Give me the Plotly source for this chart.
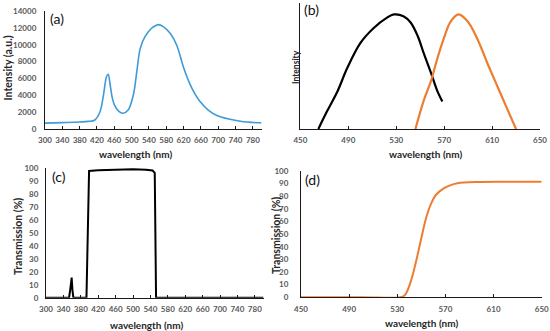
import plotly.graph_objects as go

# ---------------- data ----------------
# (a) emission spectrum of the white LED
wl_a = [300, 340, 380, 400, 415, 427, 435, 442, 446, 450, 455, 460, 470, 480, 492,
        504, 512, 520, 531, 546, 555, 562, 573, 589, 604, 620, 635, 647, 658, 677,
        697, 727, 758, 780, 800]
int_a = [700, 760, 830, 900, 1070, 2050, 4030, 6200, 6500, 5400, 3800, 2900, 2130, 1860, 2250,
         4030, 6800, 9570, 10950, 11950, 12250, 12380, 12150, 11350, 9970, 7300, 5300, 4100, 3250, 2250,
         1600, 1150, 870, 780, 740]

# (b) normalised spectra
wl_b_black = [465, 472, 481, 489, 500, 511, 522, 528, 536, 542, 548, 553, 559, 564, 568.5]
int_b_black = [0, 0.15, 0.33, 0.53, 0.75, 0.88, 0.97, 1.0, 0.985, 0.93, 0.81, 0.66, 0.49, 0.34, 0.24]
wl_b_orange = [546, 553, 559, 564, 570, 575.5, 582, 589.5, 598, 606, 614.5, 623, 630]
int_b_orange = [0, 0.25, 0.42, 0.605, 0.80, 0.94, 1.0, 0.94, 0.78, 0.576, 0.371, 0.167, 0]

# (c) band-pass filter transmission
wl_c = [300, 353, 356, 359, 361, 363, 393, 399, 420, 460, 500, 530, 545, 550, 553, 800]
tr_c = [0, 0, 7, 15.5, 5, 0, 0, 97.5, 98, 98.5, 98.8, 98.5, 97.8, 96, 0, 0]

# (d) long-pass filter transmission
wl_d = [450, 500, 532.5, 536, 538, 542, 546, 550, 554, 558, 562, 568.6, 575, 580, 596, 620, 650]
tr_d = [0, 0, 0, 1.5, 4.4, 15, 30, 47, 63, 74, 81, 86.3, 89, 90.3, 91.3, 91.5, 91.5]

panel_labels = ["(a)", "(b)", "(c)", "(d)"]
x_title = "wavelength (nm)"
y_titles = ["Intensity (a.u.)", "Intensity", "Transmission (%)", "Transmission (%)"]

W, H = 550, 331
BLUE = "#3d9bd8"
ORANGE = "#ed7d31"
TICKC = "#595959"
TITLEC = "#262626"
FONT = "Lato"

fig = go.Figure()
fig.add_trace(go.Scatter(x=wl_a, y=int_a, mode="lines", line=dict(color=BLUE, width=1.6, shape="spline"),
                         xaxis="x", yaxis="y", showlegend=False))
fig.add_trace(go.Scatter(x=wl_b_black, y=int_b_black, mode="lines", line=dict(color="black", width=2.2, shape="spline"),
                         xaxis="x2", yaxis="y2", showlegend=False))
fig.add_trace(go.Scatter(x=wl_b_orange, y=int_b_orange, mode="lines", line=dict(color=ORANGE, width=2.2, shape="spline"),
                         xaxis="x2", yaxis="y2", showlegend=False))
fig.add_trace(go.Scatter(x=wl_c, y=tr_c, mode="lines", line=dict(color="black", width=2),
                         xaxis="x3", yaxis="y3", showlegend=False))
fig.add_trace(go.Scatter(x=wl_d, y=tr_d, mode="lines", line=dict(color=ORANGE, width=2, shape="spline"),
                         xaxis="x4", yaxis="y4", showlegend=False))


def px_x(p):
    return p / W


def px_y(p):
    return 1 - p / H


tickfont = dict(family=FONT, size=8, color=TICKC, weight="bold")
xtitlefont = dict(family=FONT, size=10, color=TITLEC, weight="bold")
ytitle_sizes = [10.5, 8.5, 10.5, 10.5]


def xaxis(domain, anchor, rng, tick0, lstand):
    return dict(domain=domain, anchor=anchor, range=rng, tick0=tick0, dtick=40, showgrid=False,
                zeroline=False, showline=True, linecolor="#1a1a1a", linewidth=1.2,
                ticks="inside", ticklen=3, tickcolor="#1a1a1a", tickfont=tickfont,
                ticklabelstandoff=lstand, ticklabeloverflow="allow", automargin=False)


def yaxis(domain, anchor, rng, dtick, lstand=0, showlabels=True):
    return dict(domain=domain, anchor=anchor, range=rng, dtick=dtick, showgrid=False,
                zeroline=False, showline=True, linecolor="#1a1a1a", linewidth=1.2,
                ticks="", showticklabels=showlabels, tickfont=tickfont, tickformat="d",
                ticklabelstandoff=lstand, ticklabeloverflow="allow", automargin=False)


fig.update_layout(
    width=W, height=H, margin=dict(l=0, r=0, t=0, b=0),
    paper_bgcolor="white", plot_bgcolor="white",
    xaxis=xaxis([px_x(45), px_x(261.5)], "y", [300, 800], 300, 3),
    yaxis=yaxis([px_y(129), px_y(11)], "x", [0, 14000], 2000, 6),
    xaxis2=xaxis([px_x(300.4), px_x(540)], "y2", [450, 650], 450, 3),
    yaxis2=yaxis([px_y(129), px_y(3)], "x2", [0, 1.1], 0.2, 0, showlabels=False),
    xaxis3=xaxis([px_x(46), px_x(263.5)], "y3", [300, 800], 300, 4),
    yaxis3=yaxis([px_y(297.7), px_y(167.7)], "x3", [0, 100], 10, 5),
    xaxis4=xaxis([px_x(301), px_x(541.7)], "y4", [450, 650], 450, 4),
    yaxis4=yaxis([px_y(297.3), px_y(171)], "x4", [0, 100], 10, 10),
)

# panel letters
label_pos = [(48, 18.5), (302, 10), (50, 176.5), (303, 179)]
for txt, (lx, ly) in zip(panel_labels, label_pos):
    fig.add_annotation(text=txt, x=px_x(lx), y=px_y(ly), xref="paper", yref="paper",
                       xanchor="left", yanchor="middle", showarrow=False,
                       font=dict(family=FONT, size=14, color="#111111"))

# axis titles
xt_pos = [(135, 154), (425, 154), (146, 325), (421, 322.5)]
yt_pos = [(7.5, 68), (296, 67), (17.5, 236.5), (276, 236)]
for (tx, ty) in xt_pos:
    fig.add_annotation(text=x_title, x=px_x(tx), y=px_y(ty), xref="paper", yref="paper",
                       xanchor="center", yanchor="middle", showarrow=False, font=xtitlefont)
for txt, size, (tx, ty) in zip(y_titles, ytitle_sizes, yt_pos):
    fig.add_annotation(text=txt, x=px_x(tx), y=px_y(ty), xref="paper", yref="paper", textangle=-90,
                       xanchor="center", yanchor="middle", showarrow=False,
                       font=dict(family=FONT, size=size, color=TITLEC, weight="bold"))

fig.write_html("out.html", config={"displayModeBar": False},
               post_script="document.body.style.margin='0';")
